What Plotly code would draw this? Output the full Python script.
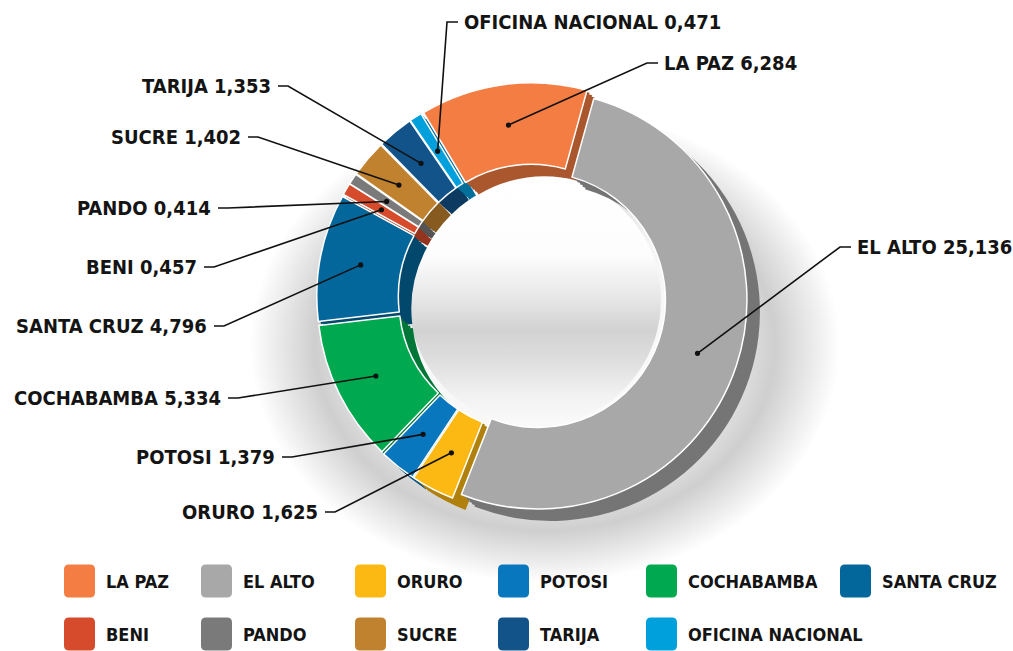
import math
import plotly.graph_objects as go

W, H = 1013, 651

# ---------------- data ----------------
categories = ["LA PAZ", "EL ALTO", "ORURO", "POTOSI", "COCHABAMBA", "SANTA CRUZ",
              "BENI", "PANDO", "SUCRE", "TARIJA", "OFICINA NACIONAL"]
values = [6.284, 25.136, 1.625, 1.379, 5.334, 4.796, 0.457, 0.414, 1.402, 1.353, 0.471]
colors = ["#F47D43", "#A8A8A8", "#FDB913", "#0877BE", "#00A94F", "#03679B",
          "#D64B2B", "#7A7A7A", "#C1822F", "#12538A", "#00A0DC"]

# label placement (layout): side, anchor x (text edge), y  -- in pixels
label_side = ["R", "R", "L", "L", "L", "L", "L", "L", "L", "L", "R"]
label_x = [662, 855, 320, 277, 223, 209, 199, 213, 243, 273, 462]
label_y = [63, 247, 512, 457, 398, 326, 267, 208, 137, 86, 22]

# legend layout (pixels)
legend_cols = [64, 201, 355, 498, 646, 840]
legend_rows = [581, 634]

# ---------------- geometry ----------------
CX, CY = 532, 298
R = 209
HOLE = 0.61
PULL = 0.03
DEPTH = (13, 12)
ROTATION = -31
FONT = "DejaVu Sans Condensed, DejaVu Sans, sans-serif"


def px(x):
    return x / W


def py(y):
    return 1 - y / H


def darker(hexcol, f):
    h = hexcol.lstrip("#")
    r, g, b = (int(h[i:i + 2], 16) for i in (0, 2, 4))
    return "rgb(%d,%d,%d)" % (r * f, g * f, b * f)


def domain_for(cx, cy):
    d = R * (1 + PULL)
    return dict(x=[px(cx - d), px(cx + d)], y=[py(cy + d), py(cy - d)])


fig = go.Figure()

# soft floor shadow around the ring
sh_cx, sh_cy, sh_rx, sh_ry = 545, 345, 295, 238
ang = [2 * math.pi * k / 120 for k in range(121)]
fig.add_trace(go.Scatter(
    x=[sh_cx + sh_rx * math.cos(a) for a in ang],
    y=[sh_cy + sh_ry * math.sin(a) for a in ang],
    mode="lines", line=dict(width=0), fill="toself",
    fillgradient=dict(type="radial", colorscale=[
        [0.0, "rgba(0,0,0,0)"], [0.55, "rgba(0,0,0,0.04)"],
        [0.78, "rgba(0,0,0,0.19)"], [1.0, "rgba(0,0,0,0)"]]),
    hoverinfo="skip", showlegend=False))

# floor visible through the hole (white with a soft grey band)
hc_x, hc_y, hc_r = 535, 300, 126
fig.add_trace(go.Scatter(
    x=[hc_x + hc_r * math.cos(a) for a in ang],
    y=[hc_y + hc_r * math.sin(a) for a in ang],
    mode="lines", line=dict(width=0), fill="toself",
    fillgradient=dict(type="vertical", start=hc_y - hc_r, stop=hc_y + hc_r, colorscale=[
        [0.0, "#ffffff"], [0.32, "#fdfdfd"], [0.5, "#e6e6e6"], [0.62, "#d2d2d2"],
        [0.74, "#dedede"], [0.88, "#f2f2f2"], [1.0, "#fafafa"]]),
    hoverinfo="skip", showlegend=False))

# extruded depth layers
side_colors = [darker(c, 0.7) for c in colors]
nlayers = 5
for k in range(nlayers, 0, -1):
    ox = DEPTH[0] * k / nlayers
    oy = DEPTH[1] * k / nlayers
    fig.add_trace(go.Pie(
        labels=categories, values=values, sort=False, direction="clockwise",
        rotation=ROTATION, hole=HOLE, pull=PULL,
        marker=dict(colors=side_colors, line=dict(color="rgba(0,0,0,0)", width=0)),
        textinfo="none", hoverinfo="skip", showlegend=False,
        domain=domain_for(CX + ox, CY + oy)))

# top face
fig.add_trace(go.Pie(
    labels=categories, values=values, sort=False, direction="clockwise",
    rotation=ROTATION, hole=HOLE, pull=PULL,
    marker=dict(colors=colors, line=dict(color="white", width=1.5)),
    textinfo="none", hoverinfo="skip", showlegend=False,
    domain=domain_for(CX, CY)))

# ---------------- labels with leader lines ----------------
total = sum(values)
shapes = []
annotations = []
cum = 0.0
r_mid = R * (1 + HOLE) / 2 + PULL * R
for i, (cat, v) in enumerate(zip(categories, values)):
    theta = math.radians(ROTATION + (cum + v / 2) / total * 360)
    cum += v
    dx = CX + r_mid * math.sin(theta)
    dy = CY - r_mid * math.cos(theta)
    lx, ly = label_x[i], label_y[i]
    if label_side[i] == "L":
        s0, s1 = lx + 5, lx + 15
        xanchor = "right"
    else:
        s0, s1 = lx - 4, lx - 15
        xanchor = "left"
    shapes.append(dict(type="path", xref="paper", yref="paper", layer="above",
                       path="M %f,%f L %f,%f L %f,%f" % (px(s0), py(ly), px(s1), py(ly), px(dx), py(dy)),
                       line=dict(color="#111111", width=1.6)))
    shapes.append(dict(type="circle", xref="paper", yref="paper", layer="above",
                       x0=px(dx - 2.6), x1=px(dx + 2.6), y0=py(dy + 2.6), y1=py(dy - 2.6),
                       fillcolor="#111111", line=dict(width=0)))
    txt = "<b>%s %s</b>" % (cat, ("%.3f" % v).replace(".", ","))
    annotations.append(dict(x=px(lx), y=py(ly), xref="paper", yref="paper",
                            text=txt, showarrow=False, xanchor=xanchor, yanchor="middle",
                            font=dict(family=FONT, size=20, color="#141414")))

# ---------------- legend ----------------
BW, BH, BR = 31, 33, 5
for i, (cat, col) in enumerate(zip(categories, colors)):
    row, c = divmod(i, len(legend_cols))
    x0 = legend_cols[c]
    x1 = x0 + BW
    yc = legend_rows[row]
    y0, y1 = yc - BH / 2, yc + BH / 2
    pts = [(x0 + BR, y0), (x1 - BR, y0), (x1, y0), (x1, y0 + BR), (x1, y1 - BR), (x1, y1),
           (x1 - BR, y1), (x0 + BR, y1), (x0, y1), (x0, y1 - BR), (x0, y0 + BR), (x0, y0)]
    P = [(px(a), py(b)) for a, b in pts]
    path = ("M %f,%f L %f,%f Q %f,%f %f,%f L %f,%f Q %f,%f %f,%f L %f,%f Q %f,%f %f,%f "
            "L %f,%f Q %f,%f %f,%f Z") % (
        P[0] + P[1] + P[2] + P[3] + P[4] + P[5] + P[6] + P[7] + P[8] + P[9] + P[10] + P[11] + P[0])
    shapes.append(dict(type="path", xref="paper", yref="paper", layer="above",
                       path=path, fillcolor=col, line=dict(width=0)))
    annotations.append(dict(x=px(x1 + 9), y=py(yc), xref="paper", yref="paper",
                            text="<b>%s</b>" % cat, showarrow=False,
                            xanchor="left", yanchor="middle",
                            font=dict(family=FONT, size=18, color="#141414")))

fig.update_layout(
    width=W, height=H,
    margin=dict(l=0, r=0, t=0, b=0),
    paper_bgcolor="white", plot_bgcolor="white",
    xaxis=dict(range=[0, W], visible=False, fixedrange=True),
    yaxis=dict(range=[H, 0], visible=False, fixedrange=True),
    showlegend=False, hovermode=False,
    shapes=shapes, annotations=annotations,
)

fig.write_html("out.html", config={"displayModeBar": False},
               post_script="document.body.style.margin='0px';")
